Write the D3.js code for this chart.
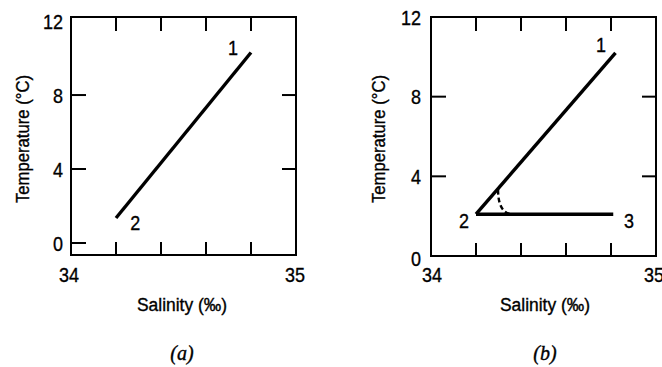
<!DOCTYPE html>
<html>
<head>
<meta charset="utf-8">
<script src="https://cdn.jsdelivr.net/npm/d3@7"></script>
<style>
  html, body { margin: 0; padding: 0; background: #fff; }
  svg text { fill: #000; stroke: #000; stroke-width: 0.35px; }
  .tick-label { font-family: "Liberation Sans", Arial, sans-serif; font-size: 21px; }
  .axis-title { font-family: "Liberation Sans", Arial, sans-serif; font-size: 18px; }
  .pt-label { font-family: "Liberation Sans", Arial, sans-serif; font-size: 21px; }
  .panel-tag { font-family: "Liberation Serif", "DejaVu Serif", serif; font-size: 20px; font-style: italic; }
</style>
</head>
<body>
<svg id="chart" width="662" height="367"></svg>
<script>
// salinity / temperature data
const salinityTicks = [34.2, 34.4, 34.6, 34.8];
const salinityLabels = [34, 35];
const tempLabels = [0, 4, 8, 12];

// panel (a): a single straight T-S line between water masses 1 and 2
const lineA = [
  { s: 34.2, t: 1.35 },
  { s: 34.8, t: 10.3 }
];
const pointsA = [
  { name: '1', s: 34.72, t: 10.6 },
  { name: '2', s: 34.285, t: 1.1 }
];

// panel (b): mixing of three water masses
const lineB1 = [
  { s: 34.2, t: 2.1 },
  { s: 34.82, t: 10.2 }
];
const lineB2 = [
  { s: 34.2, t: 2.1 },
  { s: 34.81, t: 2.1 }
];
const curveB = [
  { s: 34.298, t: 3.35 },
  { s: 34.298, t: 2.1 },
  { s: 34.365, t: 2.1 }
];
const pointsB = [
  { name: '1', s: 34.756, t: 10.6 },
  { name: '2', s: 34.147, t: 1.8 },
  { name: '3', s: 34.88, t: 1.8 }
];

const svg = d3.select('#chart');

function drawPanel(opt) {
  const x = d3.scaleLinear().domain([34, 35]).range([opt.left, opt.right]);
  const y = d3.scaleLinear().domain(opt.yDomain).range([opt.bottom, opt.top]);
  const g = svg.append('g');
  const tickLen = 14;

  // frame
  g.append('rect')
    .attr('x', opt.left).attr('y', opt.top)
    .attr('width', opt.right - opt.left).attr('height', opt.bottom - opt.top)
    .attr('fill', 'none').attr('stroke', '#000').attr('stroke-width', 2);

  // inward ticks on top and bottom
  salinityTicks.forEach(v => {
    g.append('line').attr('x1', x(v)).attr('x2', x(v))
      .attr('y1', opt.top).attr('y2', opt.top + tickLen)
      .attr('stroke', '#000').attr('stroke-width', 2);
    g.append('line').attr('x1', x(v)).attr('x2', x(v))
      .attr('y1', opt.bottom).attr('y2', opt.bottom - tickLen + 1)
      .attr('stroke', '#000').attr('stroke-width', 2);
  });
  opt.leftTicks.forEach(v => {
    g.append('line').attr('x1', opt.left).attr('x2', opt.left + tickLen + 1)
      .attr('y1', y(v)).attr('y2', y(v))
      .attr('stroke', '#000').attr('stroke-width', 2);
  });
  opt.rightTicks.forEach(v => {
    g.append('line').attr('x1', opt.right).attr('x2', opt.right - tickLen)
      .attr('y1', y(v)).attr('y2', y(v))
      .attr('stroke', '#000').attr('stroke-width', 2);
  });

  // tick labels (condensed face in the original, squeezed here)
  g.selectAll('.ylab').data(tempLabels).enter().append('text')
    .attr('class', 'tick-label')
    .attr('x', opt.left - opt.labelGap)
    .attr('y', d => y(d) + (d === 0 ? opt.zeroShift : 0))
    .attr('dy', '0.36em')
    .attr('text-anchor', 'end')
    .attr('textLength', d => String(d).length * 10)
    .attr('lengthAdjust', 'spacingAndGlyphs')
    .text(d => d);
  g.selectAll('.xlab').data(salinityLabels).enter().append('text')
    .attr('class', 'tick-label')
    .attr('x', d => x(d) + opt.xLabShift[d === 34 ? 0 : 1])
    .attr('y', 282)
    .attr('text-anchor', 'middle')
    .attr('textLength', 20)
    .attr('lengthAdjust', 'spacingAndGlyphs')
    .text(d => d);

  // axis titles
  g.append('text').attr('class', 'axis-title')
    .attr('transform', `translate(${opt.left - opt.titleGap},139) rotate(-90)`)
    .attr('text-anchor', 'middle')
    .attr('textLength', 128).attr('lengthAdjust', 'spacingAndGlyphs')
    .text('Temperature (°C)');
  g.append('text').attr('class', 'axis-title')
    .attr('x', opt.xTitle).attr('y', 311)
    .attr('text-anchor', 'middle')
    .attr('textLength', 90).attr('lengthAdjust', 'spacingAndGlyphs')
    .text('Salinity (‰)');
  g.append('text').attr('class', 'panel-tag')
    .attr('x', opt.xTitle).attr('y', 360)
    .attr('text-anchor', 'middle')
    .text(opt.tag);

  const line = d3.line().x(d => x(d.s)).y(d => y(d.t));
  opt.lines.forEach(l => {
    g.append('path').attr('d', line(l))
      .attr('fill', 'none').attr('stroke', '#000').attr('stroke-width', 3.4)
      .attr('stroke-linecap', 'butt');
  });
  if (opt.curve) {
    const c = opt.curve;
    const p = d3.path();
    p.moveTo(x(c[0].s), y(c[0].t));
    p.quadraticCurveTo(x(c[1].s), y(c[1].t), x(c[2].s), y(c[2].t));
    g.append('path').attr('d', p.toString())
      .attr('fill', 'none').attr('stroke', '#000').attr('stroke-width', 2.4)
      .attr('stroke-dasharray', '5,3');
  }

  g.selectAll('.pt').data(opt.points).enter().append('text')
    .attr('class', 'pt-label')
    .attr('x', d => x(d.s)).attr('y', d => y(d.t))
    .attr('dy', '0.36em')
    .attr('text-anchor', 'middle')
    .attr('textLength', 10).attr('lengthAdjust', 'spacingAndGlyphs')
    .text(d => d.name);
}

drawPanel({
  left: 71, right: 296, top: 17, bottom: 255,
  yDomain: [-0.65, 12.22],
  leftTicks: [0, 4, 8], rightTicks: [4, 8],
  labelGap: 8, zeroShift: 0, xLabShift: [-2, -1], titleGap: 42, xTitle: 182,
  lines: [lineA], points: pointsA, tag: '(a)'
});

drawPanel({
  left: 431, right: 656, top: 17, bottom: 256,
  yDomain: [0, 12],
  leftTicks: [4, 8], rightTicks: [4, 8],
  labelGap: 10, zeroShift: 2, xLabShift: [1, -2], titleGap: 46, xTitle: 545,
  lines: [lineB1, lineB2], curve: curveB, points: pointsB, tag: '(b)'
});
</script>
</body>
</html>
